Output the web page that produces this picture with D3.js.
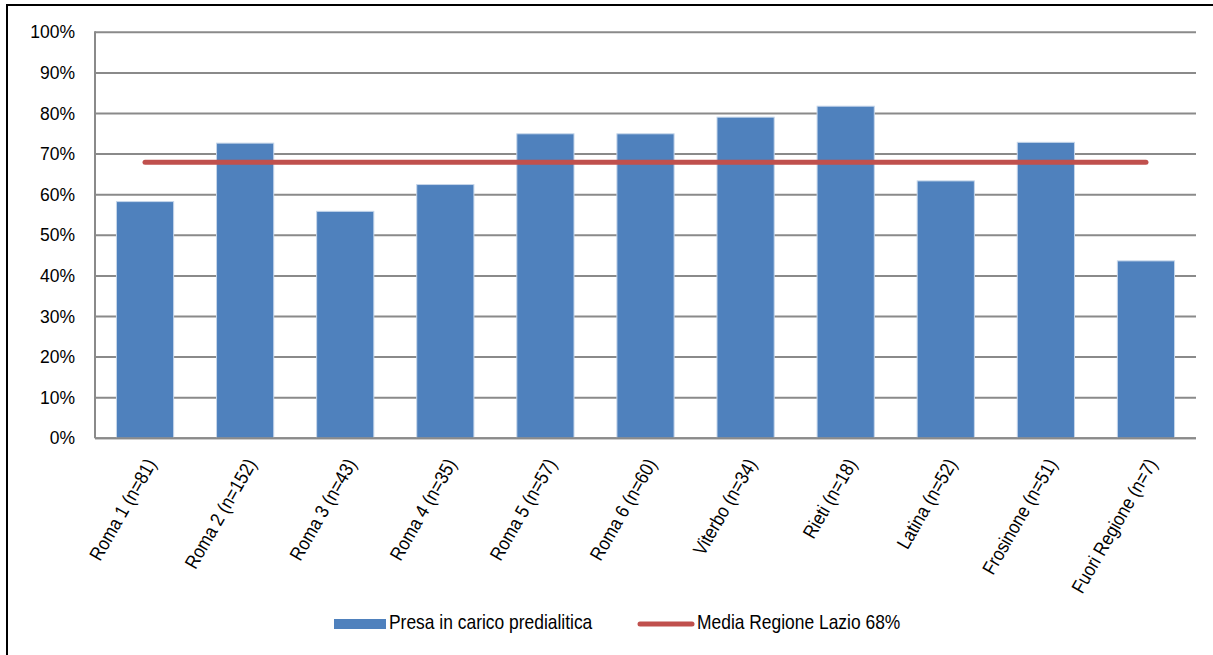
<!DOCTYPE html>
<html>
<head>
<meta charset="utf-8">
<script src="https://cdn.jsdelivr.net/npm/d3@7/dist/d3.min.js"></script>
<style>
  html, body { margin: 0; padding: 0; background: #fff; }
  svg { display: block; font-family: "Liberation Sans", Arial, sans-serif; }
</style>
</head>
<body>
<svg id="chart" width="1213" height="655"></svg>
<script>
const categories = ["Roma 1 (n=81)", "Roma 2 (n=152)", "Roma 3 (n=43)", "Roma 4 (n=35)", "Roma 5 (n=57)", "Roma 6 (n=60)", "Viterbo (n=34)", "Rieti (n=18)", "Latina (n=52)", "Frosinone (n=51)", "Fuori Regione (n=7)"];
const presaValues = [58.3, 72.7, 55.9, 62.5, 75.0, 75.0, 79.1, 81.8, 63.4, 72.9, 43.7];
const mediaValue = 68;
const yTicks = [0, 10, 20, 30, 40, 50, 60, 70, 80, 90, 100];
const seriesNames = ["Presa in carico predialitica", "Media Regione Lazio 68%"];

const svg = d3.select("#chart");
const plot = { left: 95, right: 1196, top: 32.3, bottom: 438.3 };
const blue = "#4f81bd", red = "#c0504d", grid = "#8a8a8a";
const FONT = "'Liberation Sans', Arial, sans-serif";

// outer frame
svg.append("rect").attr("x", 7).attr("y", 5).attr("width", 1220).attr("height", 670)
  .attr("fill", "none").attr("stroke", "#000").attr("stroke-width", 2);

const x = d3.scaleBand().domain(categories).range([plot.left, plot.right])
  .paddingInner(0.75 / 1.75).paddingOuter(0.75 / 3.5);
const y = d3.scaleLinear().domain([0, 100]).range([plot.bottom, plot.top]);

// gridlines
svg.append("g").selectAll("line").data(yTicks).join("line")
  .attr("x1", plot.left).attr("x2", plot.right)
  .attr("y1", d => y(d)).attr("y2", d => y(d))
  .attr("stroke", grid).attr("stroke-width", 2);

// y axis labels
const yAxis = d3.axisLeft(y).tickValues(yTicks).tickFormat(d => d + "%").tickSize(0).tickPadding(20);
const ya = svg.append("g").attr("transform", `translate(${plot.left},0)`).call(yAxis);
ya.select(".domain").remove();
ya.selectAll("text").attr("font-size", 17.5).attr("fill", "#000").attr("font-family", FONT);

// bars
svg.append("g").selectAll("rect").data(presaValues).join("rect")
  .attr("x", (d, i) => x(categories[i]))
  .attr("y", d => y(d))
  .attr("width", x.bandwidth())
  .attr("height", d => y(0) - y(d))
  .attr("fill", blue)
  .attr("stroke", "#c6d6ea").attr("stroke-width", 1);

// axis lines
svg.append("line").attr("x1", plot.left).attr("x2", plot.left).attr("y1", plot.top - 1).attr("y2", plot.bottom)
  .attr("stroke", grid).attr("stroke-width", 2);
svg.append("line").attr("x1", plot.left).attr("x2", plot.right).attr("y1", plot.bottom).attr("y2", plot.bottom)
  .attr("stroke", grid).attr("stroke-width", 2);

// media line
const lineGen = d3.line().x(d => x(d) + x.bandwidth() / 2).y(() => y(mediaValue));
svg.append("path").datum(categories).attr("d", lineGen)
  .attr("fill", "none").attr("stroke", red).attr("stroke-width", 5).attr("stroke-linecap", "round");

// x labels
const xAxis = d3.axisBottom(x).tickSize(0).tickPadding(0);
const xa = svg.append("g").attr("transform", `translate(0,${plot.bottom})`).call(xAxis);
xa.select(".domain").remove();
xa.selectAll("text")
  .attr("font-size", 17.5).attr("fill", "#000").attr("font-family", FONT)
  .attr("text-anchor", "end")
  .attr("y", 0).attr("dy", "0.35em")
  .attr("transform", "translate(6,22) rotate(-60) scale(0.97,1.1)");

// legend
const legY = 624;
const leg = svg.append("g");
leg.append("rect").attr("x", 334).attr("y", legY - 5).attr("width", 52).attr("height", 10).attr("fill", blue);
leg.append("text").attr("transform", `translate(389,${legY + 4.5}) scale(0.85,1)`)
  .attr("font-size", 20.5).attr("fill", "#000").text(seriesNames[0]);
leg.append("line").attr("x1", 640).attr("x2", 692).attr("y1", legY).attr("y2", legY)
  .attr("stroke", red).attr("stroke-width", 5).attr("stroke-linecap", "round");
leg.append("text").attr("transform", `translate(697,${legY + 4.5}) scale(0.85,1)`)
  .attr("font-size", 20.5).attr("fill", "#000").text(seriesNames[1]);
</script>
</body>
</html>
